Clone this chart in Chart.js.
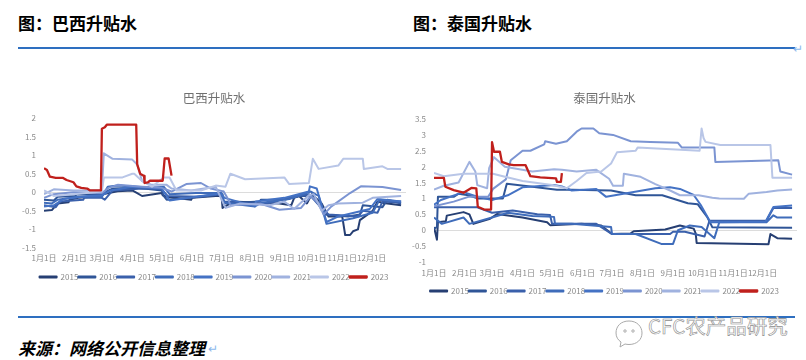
<!DOCTYPE html>
<html><head><meta charset="utf-8">
<script src="https://cdn.jsdelivr.net/npm/chart.js@4"></script>
<style>
html,body{margin:0;padding:0;background:#fff;width:806px;height:360px;overflow:hidden}
body{position:relative;font-family:"Noto Sans CJK SC",sans-serif}
canvas{position:absolute;filter:blur(.35px)}
.t{position:absolute;white-space:nowrap;color:#000;font-weight:700;font-size:17px;line-height:20px}
.rule{position:absolute;left:18px;width:777px;height:2px;background:#2e6fc0}
.ret{position:absolute;color:#8db8ec;font-size:12px;line-height:14px;font-weight:400}
</style></head><body>
<div class="t" style="left:18px;top:13px">图：巴西升贴水</div>
<div class="t" style="left:413px;top:13px">图：泰国升贴水</div>
<div class="rule" style="top:47px"></div><div class="ret" style="left:793px;top:41px">↵</div>
<div class="rule" style="top:316px"></div>
<div class="t" style="left:18px;top:338px;font-style:italic">来源：网络公开信息整理</div>
<div class="ret" style="left:208px;top:341px">↵</div>
<svg style="position:absolute;left:613px;top:316px" width="32" height="36" viewBox="0 0 32 36" fill="#fff" stroke="#aaa" stroke-width="1">
<path d="M16 5C8 5 3 10 3 17c0 4 2 7 5 9l-1 5 5-3c1 .3 3 .5 4 .5 8 0 13-5 13-11.500S24 5 16 5z"/><circle cx="12" cy="15" r="1.2"/><circle cx="20" cy="15" r="1.2"/></svg>
<div style="position:absolute;left:648px;top:312px;font-size:20.5px;line-height:26px;color:#fff;-webkit-text-stroke:.6px #8c8c8c;white-space:nowrap">CFC农产品研究</div>
<canvas id="c1" width="408" height="208" style="left:0;top:85px;width:408px;height:208px"></canvas>
<canvas id="c2" width="403" height="222" style="left:403px;top:85px;width:403px;height:222px"></canvas>
<script>
const monthStarts=[0,31,59,90,120,151,181,212,243,273,304,334];
const monthLabels=["1月1日","2月1日","3月1日","4月1日","5月1日","6月1日","7月1日","8月1日","9月1日","10月1日","11月1日","12月1日"];
const seriesNames=["2015","2016","2017","2018","2019","2020","2021","2022","2023"];
const seriesColors=["#263f73","#2f5597","#3a60ab","#3f6cba","#4472c4","#7b94d2","#a0b2df","#b9c6e7","#c0201c"];

// 巴西升贴水: day of year / value per series
const br2015x=[0,8,10,14,25,26,35,59,61,75,90,95,100,120,121,125,150,151,175,181,182,190,191,240,252,255,260,268,273,283,290,304,307,312,315,320,322,335,340,345,350,364];
const br2015y=[-.5,-.48,-.42,-.3,-.27,-.2,-.15,-.1,-.05,.03,.05,-.02,-.1,-.02,-.08,-.12,-.2,-.15,-.1,-.1,-.42,-.3,-.25,-.3,-.35,-.15,-.1,-.3,-.05,-.3,-.65,-.65,-1.15,-1.15,-1.05,-1,-.75,-.5,-.25,-.28,-.3,-.35];
const br2016x=[0,10,14,32,33,59,60,70,95,120,122,125,150,175,182,183,220,221,245,260,275,285,286,310,322,325,345,350,364];
const br2016y=[-.2,-.22,-.12,-.1,-.06,-.05,-.02,.1,.12,.05,-.1,-.2,-.15,-.05,-.05,-.3,-.25,-.2,-.2,-.1,-.1,-.55,-.6,-.65,-.6,-.35,-.4,-.2,-.3];
const br2017x=[0,12,16,40,41,59,62,70,100,120,126,160,181,183,225,250,270,282,290,320,325,340,345,364];
const br2017y=[-.35,-.4,-.25,-.2,-.15,-.15,-.2,.05,.1,.08,-.1,-.12,-.05,-.25,-.32,-.15,-.05,-.4,-.6,-.65,-.5,-.55,-.25,-.28];
const br2018x=[0,8,14,35,59,65,75,110,122,128,155,181,184,215,222,250,272,280,288,315,335,342,364];
const br2018y=[-.28,-.3,-.2,-.12,-.12,.15,.18,.12,.15,-.05,-.02,-.02,-.28,-.38,-.28,-.18,.02,-.1,-.85,-.7,-.55,-.2,-.25];
const br2019x=[0,10,20,45,59,68,90,120,128,160,180,184,215,216,245,270,271,278,288,300,332,340,364];
const br2019y=[-.38,-.35,-.18,-.1,-.08,.05,.15,.1,-.22,-.1,-.03,-.15,-.38,-.25,-.15,.02,.16,.1,-.8,-.65,-.45,-.18,-.25];
const br2020x=[0,10,30,59,66,75,100,120,130,145,160,170,182,183,188,190,220,240,262,272,280,285,293,312,323,345,364];
const br2020y=[-.15,-.05,0,-.02,.12,.2,.15,.12,.02,.22,.25,.1,.03,.03,-.2,-.35,-.3,-.47,-.42,-.1,-.3,-.6,-.38,-.02,.16,.14,.06];
const br2021x=[0,10,30,59,61,70,90,95,100,110,125,130,150,175,185,200,230,245,255,270,275,283,290,300,325,335,364];
const br2021y=[-.05,.08,.05,.05,1.05,.9,.88,.75,.3,.2,.2,.1,.05,.15,-.42,-.3,-.35,-.25,-.45,-.08,-.05,-.5,-.35,-.3,-.28,-.15,-.1];
const br2022x=[0,4,10,30,59,61,80,90,92,100,110,122,128,135,160,175,185,190,205,245,250,270,274,280,300,305,325,326,345,350,364];
const br2022y=[.05,0,-.1,-.05,.02,.4,.4,.5,.5,.3,.15,.4,.4,.05,.05,.18,.15,.5,.35,.4,.22,.25,.9,.63,.72,.9,.9,.63,.7,.63,.63];
const br2023x=[0,3,6,12,19,23,30,33,38,44,47,58,59,62,64,94,95,98,102,102.5,106,108,121,123,127,130];
const br2023y=[.65,.6,.42,.39,.39,.33,.27,.16,.12,.1,.05,.05,1.71,1.75,1.82,1.82,.75,.5,.44,.25,.27,.31,.31,.91,.91,.45];

// 泰国升贴水: day of year / value per series
const th2015x=[0,3,4,12,13,30,36,40,57,64,90,115,118,150,170,181,200,203,235,250,264,266,267,340,342,349,364];
const th2015y=[.1,-.3,.25,.28,.46,.57,.5,.2,.36,.51,.4,.25,.16,.2,.15,-.12,-.1,-.03,.02,.15,.05,-.1,-.4,-.44,-.12,-.25,-.27];
const th2016x=[0,3,4,20,25,35,45,70,74,100,125,140,180,205,232,258,268,278,283,364];
const th2016y=[.05,.1,1.05,1.05,1.15,1.1,1,1,1.46,1.37,1.27,1.27,1.25,1.1,1.1,.85,.82,.4,.09,.08];
const th2017x=[0,44,59,80,105,118,120,165,181,220,240,243,255,275,280,338,345,364];
const th2017y=[.72,.72,.55,.62,.5,.48,.2,.2,-.12,-.12,-.12,-.05,-.05,-.2,.3,.3,.7,.7];
const th2018x=[0,1,8,30,36,59,75,100,122,123,140,180,181,205,231,243,248,260,272,285,290,338,345,349,364];
const th2018y=[.4,.4,.2,.4,.2,.4,.55,.45,.42,.2,.2,.1,-.12,-.12,-.43,-.43,0,.15,.1,-.25,.25,.25,.47,.4,.4];
const th2019x=[0,1,7,30,45,59,75,90,122,130,140,165,175,225,240,250,264,271,281,288,337,345,364];
const th2019y=[.8,.8,.95,1.2,1.05,.95,1.1,1.35,1.42,1.38,1.25,1.3,1.05,1.32,1.35,1.3,1.11,.8,.25,.25,.27,.73,.78];
const th2020x=[0,20,35,55,60,73,78,90,98,112,113,124,135,145,150,162,168,182,200,220,248,252,285,286,350,352,364];
const th2020y=[.75,.9,1.05,1.05,1.3,1.6,2.2,2.5,2.5,2.7,2.8,2.72,2.8,3.1,3.2,3.2,3.05,3,2.8,2.78,2.75,2.6,2.6,2.15,2.2,1.85,1.75];
const th2021x=[0,10,25,36,42,44,54,56,61,72,100,122,130,145,165,178,182,192,193,210,225,240,250,269,283,290,315,320,338,349,364];
const th2021y=[1.28,1.4,1.5,2.15,1.85,1.42,1.32,1.95,2.3,2,1.85,1.92,1.9,1.85,1.9,1.62,1.4,1.4,1.78,1.68,1.45,1.25,1.1,1.1,1.02,1,.99,1.15,1.2,1.25,1.28];
const th2022x=[0,10,30,60,70,90,120,135,145,155,170,180,186,205,207,270,272,274,276,291,342,344,364];
const th2022y=[1.8,1.7,1.78,1.78,1.7,1.55,1.42,1.32,1.55,1.8,1.85,2.1,2.45,2.5,2.6,2.5,3.2,2.9,2.78,2.68,2.68,1.65,1.65];
const th2023x=[0,10,11.5,20,30,38,43,44.5,51,58,59,61,67,69,76,81,93,98,108,124,125,129,130];
const th2023y=[1.65,1.65,1.37,1.26,1.18,1.33,1.32,.74,.65,.65,2.77,2.47,2.47,2.15,2.07,2.05,2.05,1.7,1.66,1.63,1.52,1.52,1.8];

const tickColor="#8a8a8a", fontFam='"Noto Sans CJK SC",sans-serif';
function makeChart(id,title,xs,ys,minY,maxY,pad,xH,yW,tp,xp){
  const datasets=seriesNames.map((n,i)=>({
    label:n,borderColor:seriesColors[i],backgroundColor:seriesColors[i],
    borderWidth:i===8?2.3:2,pointRadius:0,tension:0,order:9-i,borderJoinStyle:'round',
    data:xs[i].map((x,k)=>({x,y:ys[i][k]}))
  }));
  return new Chart(document.getElementById(id),{type:'line',data:{datasets},options:{
    responsive:false,animation:false,parsing:false,layout:{padding:pad},
    plugins:{
      title:{display:true,text:title,color:'#707070',font:{family:fontFam,size:12.5,weight:'normal'},padding:{top:0,bottom:tp}},
      legend:{position:'bottom',labels:{color:tickColor,font:{family:fontFam,size:8},boxWidth:17,boxHeight:1,padding:0,
        sort:(a,b)=>a.datasetIndex-b.datasetIndex}},
      tooltip:{enabled:false}
    },
    scales:{
      x:{type:'linear',min:0,max:369,border:{display:false},grid:{display:false},
        afterBuildTicks:a=>{a.ticks=monthStarts.map(v=>({value:v}))},
        afterFit:a=>{a.height=xH},
        ticks:{autoSkip:false,maxRotation:0,padding:xp,color:tickColor,font:{family:fontFam,size:8},
          callback:v=>monthLabels[monthStarts.indexOf(v)]}},
      y:{min:minY,max:maxY,border:{display:false},
        afterFit:a=>{a.width=yW},
        grid:{drawTicks:false,color:c=>c.tick.value===0?'#dcdcdc':'transparent'},
        ticks:{stepSize:.5,padding:8,color:tickColor,font:{family:fontFam,size:8},callback:v=>String(v)}}
    }}});
}
makeChart('c1','巴西升贴水',
  [br2015x,br2016x,br2017x,br2018x,br2019x,br2020x,br2021x,br2022x,br2023x],
  [br2015y,br2016y,br2017y,br2018y,br2019y,br2020y,br2021y,br2022y,br2023y],
  -1.5,2,{left:22,right:2,top:6,bottom:2},25,22,12,-3);
makeChart('c2','泰国升贴水',
  [th2015x,th2016x,th2017x,th2018x,th2019x,th2020x,th2021x,th2022x,th2023x],
  [th2015y,th2016y,th2017y,th2018y,th2019y,th2020y,th2021y,th2022y,th2023y],
  -1,3.5,{left:9,right:9,top:6,bottom:2},25,22,13,-2);
</script></body></html>
